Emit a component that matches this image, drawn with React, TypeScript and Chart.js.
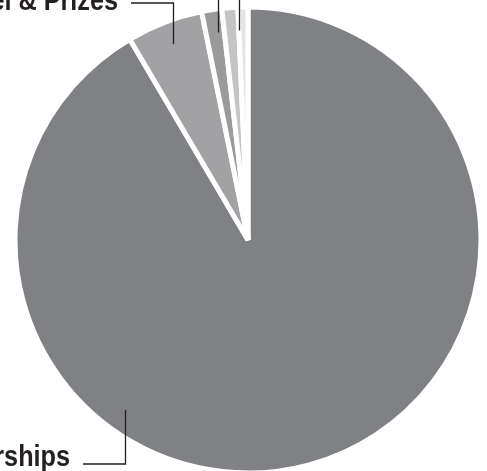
import React, { useEffect, useRef } from "react";
import { Chart, registerables } from "chart.js";

Chart.register(...registerables);

const categories = ["Scholarships", "Travel & Prizes", "Fellowships", "Research Grants", "Other"];
const shares = [91.53, 5.28, 1.39, 1.11, 0.69];
const sliceColors = ["#808184", "#a2a2a4", "#9a9a9c", "#c4c4c6", "#e4e4e6"];

const FONT = 'bold 29px "Liberation Sans", Arial, sans-serif';

const leaderPlugin = {
  id: "leaders",
  afterDatasetsDraw(chart: any) {
    const ctx = chart.ctx;
    const meta = chart.getDatasetMeta(0);
    const spec = [
      { i: 0, frac: 0.655, rf: 0.9, elbowY: 464, lineEnd: 83, textX: 70, baseY: 466 },
      { i: 1, frac: 0.5, rf: 0.9, elbowY: 3, lineEnd: 131, textX: 118, baseY: 10 },
      { i: 2, frac: 0.65, rf: 0.9, elbowY: -12, lineEnd: 200, textX: 190, baseY: -8 },
      { i: 3, frac: 0.98, rf: 0.9, elbowY: -30, lineEnd: 260, textX: 270, baseY: -26 },
    ];
    ctx.save();
    ctx.strokeStyle = "#231f20";
    ctx.lineWidth = 1.3;
    ctx.fillStyle = "#231f20";
    ctx.font = FONT;
    spec.forEach((s) => {
      const arc: any = meta.data[s.i];
      if (!arc) return;
      const a = arc.startAngle + s.frac * (arc.endAngle - arc.startAngle);
      const r = arc.outerRadius * s.rf;
      const px = arc.x + Math.cos(a) * r;
      const py = arc.y + Math.sin(a) * r;
      ctx.beginPath();
      ctx.moveTo(Math.round(px) + 0.5, py);
      ctx.lineTo(Math.round(px) + 0.5, s.elbowY);
      ctx.lineTo(s.lineEnd, s.elbowY);
      ctx.stroke();
      const leftSide = s.lineEnd < px;
      ctx.save();
      ctx.translate(s.textX, s.baseY);
      ctx.scale(0.87, 1);
      ctx.textAlign = leftSide ? "right" : "left";
      ctx.textBaseline = "alphabetic";
      ctx.fillText(categories[s.i], 0, 0);
      ctx.restore();
    });
    ctx.restore();
  },
};

export default function App() {
  const ref = useRef<HTMLCanvasElement | null>(null);
  useEffect(() => {
    if (!ref.current) return;
    const chart = new Chart(ref.current, {
      type: "pie",
      data: {
        labels: categories,
        datasets: [
          {
            data: shares,
            backgroundColor: sliceColors,
            borderColor: "#ffffff",
            borderWidth: 5,
            hoverOffset: 0,
            offset: 0,
          },
        ],
      },
      options: {
        responsive: false,
        animation: false,
        radius: 233,
        layout: { padding: { left: 9, right: 0, top: 9, bottom: 0 } },
        plugins: {
          legend: { display: false },
          tooltip: { enabled: false },
        },
      } as any,
      plugins: [leaderPlugin],
    });
    return () => chart.destroy();
  }, []);
  return (
    <div style={{ position: "absolute", left: 0, top: 0, width: 487, height: 471, background: "#fff" }}>
      <canvas ref={ref} width={487} height={471} style={{ display: "block" }} />
    </div>
  );
}
